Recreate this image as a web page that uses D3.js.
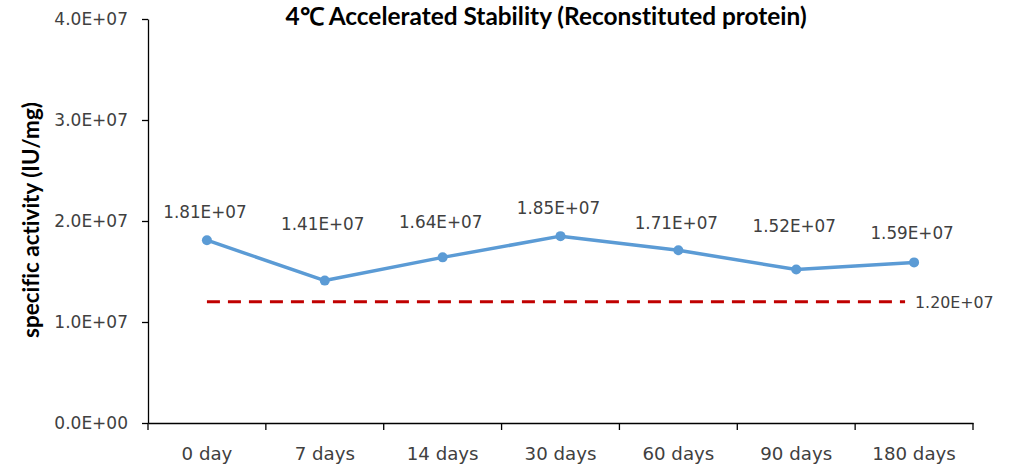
<!DOCTYPE html>
<html lang="en">
<head>
    <meta charset="UTF-8">
    <title>4°C Accelerated Stability</title>
    <script src="https://d3js.org/d3.v7.min.js"></script>
    <style>
        body { margin: 0; background: #fff; }
        svg { display: block; }
        text { font-variant-ligatures: none; }
        .tick text { font-family: "DejaVu Sans", Verdana, sans-serif; fill: #404040; }
        .domain, .tick line { stroke: #000; stroke-width: 1.3px; }
    </style>
</head>
<body>
<svg width="1011" height="466"></svg>
<script>
    // Chart data
    const categories = ["0 day", "7 days", "14 days", "30 days", "60 days", "90 days", "180 days"];
    const activity = [1.81e7, 1.41e7, 1.64e7, 1.85e7, 1.71e7, 1.52e7, 1.59e7];
    const threshold = 1.2e7;
    const yTicks = [0, 1e7, 2e7, 3e7, 4e7];

    // Per-label vertical nudges (labels were placed by hand in the original)
    const labelDy = [-22, -51, -29, -22, -21, -37, -23];

    const svg = d3.select("svg");
    const margin = { top: 19, right: 38, bottom: 43, left: 148 };
    const width = 1011 - margin.left - margin.right,
          height = 466 - margin.top - margin.bottom;

    const g = svg.append("g").attr("transform", `translate(${margin.left},${margin.top})`);

    const x = d3.scaleBand().domain(categories).range([0, width]).padding(0);
    const y = d3.scaleLinear().domain([0, 4e7]).range([height, 0]);
    const cx = d => x(d) + x.bandwidth() / 2;
    const fmt = v => v.toExponential(1).toUpperCase().replace(/E([+-])(\d)$/, "E$10$2");
    const fmt2 = v => v.toExponential(2).toUpperCase().replace(/E([+-])(\d)$/, "E$10$2");

    // Font size that makes a text element a given width
    function fitSize(node, target) {
        const w = node.getComputedTextLength();
        const fs = parseFloat(getComputedStyle(node).fontSize);
        return fs * target / w;
    }

    // Y axis
    const yAxis = g.append("g")
        .call(d3.axisLeft(y).tickValues(yTicks).tickFormat(fmt).tickSize(6).tickPadding(14).tickSizeOuter(0));
    yAxis.selectAll("text").style("font-size", "17px");

    // X axis: labels centered in bands, tick marks on band boundaries
    const xAxis = g.append("g").attr("transform", `translate(0,${height})`)
        .call(d3.axisBottom(x).tickSize(0).tickPadding(24).tickSizeOuter(0));
    xAxis.selectAll("text").style("font-size", "18.2px");
    xAxis.selectAll(".tick-mark")
        .data(d3.range(categories.length + 1))
        .enter().append("line")
        .attr("x1", i => i * x.step()).attr("x2", i => i * x.step())
        .attr("y1", 0).attr("y2", 7)
        .attr("stroke", "#000").attr("stroke-width", 1.3);

    // Threshold dashed line
    g.append("line")
        .attr("x1", cx(categories[0]))
        .attr("x2", cx(categories[categories.length - 1]) - 9)
        .attr("y1", y(threshold)).attr("y2", y(threshold))
        .attr("stroke", "#c00000").attr("stroke-width", 3)
        .attr("stroke-dasharray", "13,8");

    g.append("text")
        .attr("x", cx(categories[categories.length - 1]) + 1)
        .attr("y", y(threshold) + 6)
        .style("font-family", "DejaVu Sans, Verdana, sans-serif")
        .style("font-size", "15.8px").attr("fill", "#404040")
        .text(fmt2(threshold));

    // Series line
    g.append("path")
        .datum(activity)
        .attr("fill", "none")
        .attr("stroke", "#5b9bd5")
        .attr("stroke-width", 3.5)
        .attr("stroke-linejoin", "round")
        .attr("d", d3.line().x((d, i) => cx(categories[i])).y(d => y(d)));

    g.selectAll(".dot")
        .data(activity)
        .enter().append("circle")
        .attr("cx", (d, i) => cx(categories[i]))
        .attr("cy", d => y(d))
        .attr("r", 5)
        .attr("fill", "#5b9bd5");

    g.selectAll(".label")
        .data(activity)
        .enter().append("text")
        .attr("x", (d, i) => cx(categories[i]) - 2)
        .attr("y", (d, i) => y(d) + labelDy[i])
        .attr("text-anchor", "middle")
        .style("font-family", "DejaVu Sans, Verdana, sans-serif")
        .style("font-size", "16.8px").attr("fill", "#404040")
        .text(d => fmt2(d));

    function fit(sel, target) {
        sel.style("font-size", fitSize(sel.node(), target) + "px");
    }

    // Title
    const title = svg.append("text")
        .attr("x", 546).attr("y", 25)
        .attr("text-anchor", "middle")
        .style("font-family", "Lato, 'Open Sans', sans-serif")
        .style("font-weight", "bold").style("font-size", "19px")
        .attr("fill", "#000")
        .text("4℃ Accelerated Stability (Reconstituted protein)");
    fit(title, 522);

    // Y axis title
    const yTitle = svg.append("text")
        .attr("transform", "translate(39,220) rotate(-90)")
        .attr("text-anchor", "middle")
        .style("font-family", "Lato, 'Open Sans', sans-serif")
        .style("font-weight", "bold").style("font-size", "17px")
        .attr("fill", "#000")
        .text("specific activity (IU/mg)");
    fit(yTitle, 236);
</script>
</body>
</html>
